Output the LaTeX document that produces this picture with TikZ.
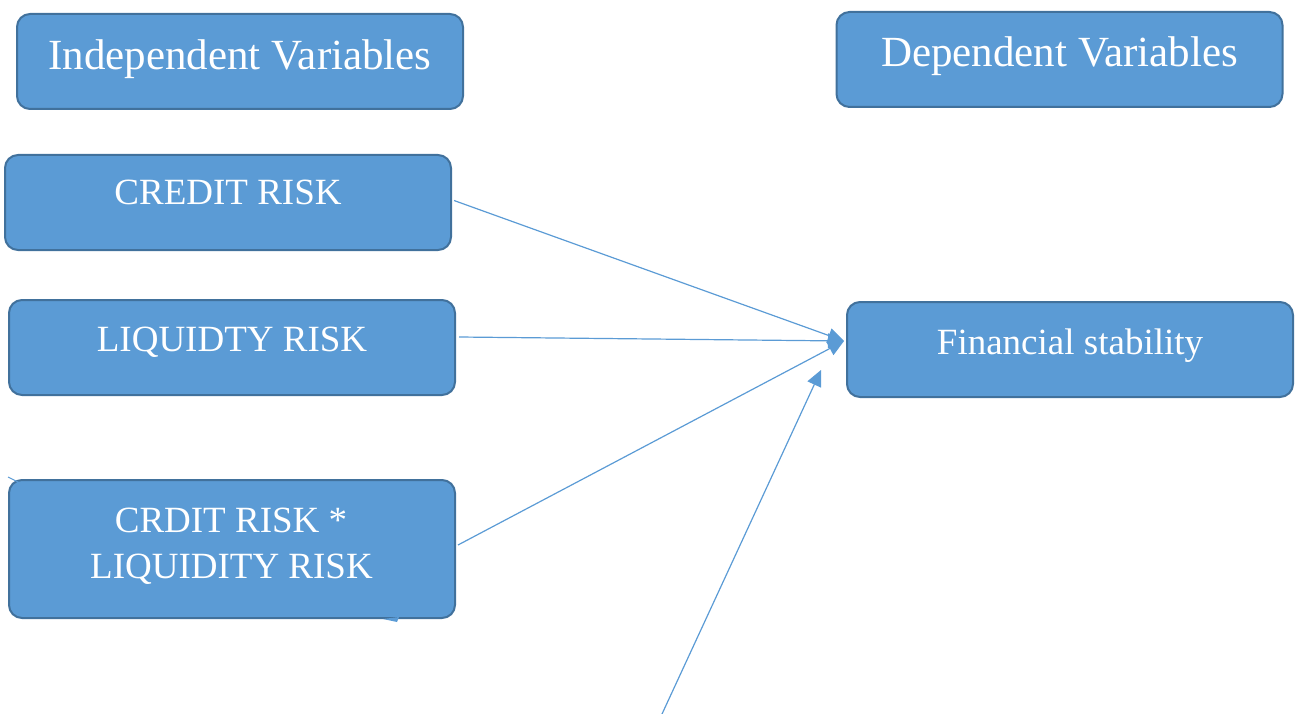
\documentclass[tikz,border=0pt]{standalone}
\usepackage{fontspec}
\setmainfont{Liberation Serif}
\usetikzlibrary{arrows.meta,calc}
\definecolor{boxfill}{HTML}{5B9BD5}
\definecolor{boxline}{HTML}{41719C}
\definecolor{arrowc}{HTML}{5B9BD5}
\begin{document}
\begin{tikzpicture}[x=1pt,y=-1pt,
  box/.style={draw=boxline,fill=boxfill,line width=2pt,rounded corners=13pt,
    minimum width=446pt,minimum height=95pt,inner sep=0pt},
  txt/.style={text=white,anchor=base,inner sep=0pt,font=\fontsize{37}{44}\selectfont},
  big/.style={txt,font=\fontsize{43}{50}\selectfont},
  conn/.style={draw=arrowc,line width=1.2pt},
  arr/.style={conn,-{Triangle[length=16pt,width=15pt]}}]
\useasboundingbox (0,0) rectangle (1298,714);
% boxes
\node[box] (ind) at (240,61.5) {};
\node[box] (dep) at (1059.5,59.5) {};
\node[box] (cr) at (228,202.5) {};
\node[box] (liq) at (232,347.5) {};
\node[box,minimum height=138pt] (int) at (232,549) {};
\node[box] (fin) at (1070,349.5) {};
% texts
\node[big] (tind) at (240,70) {Independent Variables};
\node[big] (tdep) at (1059.5,67) {Dependent Variables};
\node[txt] (tcr) at (228,205) {CREDIT RISK};
\node[txt] (tliq) at (232,351) {LIQUIDTY RISK};
\node[txt] (tfin) at (1070,354) {Financial stability};
\node[txt] (tint1) at (231,532) {CRDIT RISK *};
\node[txt] (tint2) at (231.5,578) {LIQUIDITY RISK};
% connectors
\coordinate (tip) at (844,341);
\coordinate (s2) at (459,337);
\coordinate (s4) at (662,714);
\coordinate (tip4) at (821,370);
\draw[arr] (cr.east) ++(2,-2) -- (tip);
\draw[arr] (s2) -- (tip);
\draw[arr] ($(int.east)+(2,-4)$) -- (tip);
\draw[arr] (s4) -- (tip4);
% small stray marks
\coordinate (m1) at (8,477);
\coordinate (m2) at (22,484);
\draw[conn,line width=1pt] (m1) -- (m2);
\coordinate (n1) at (383,619);
\coordinate (n2) at (399,617);
\coordinate (n3) at (397,622);
\fill[arrowc] (n1) -- (n2) -- (n3) -- cycle;
\end{tikzpicture}
\end{document}
